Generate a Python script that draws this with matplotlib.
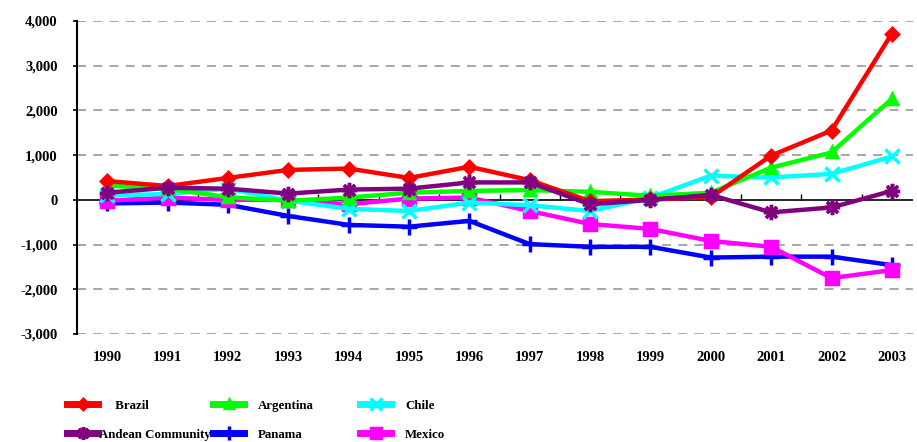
import numpy as np
import matplotlib
matplotlib.use("Agg")
from matplotlib import pyplot as plt
from matplotlib.ticker import FuncFormatter

years = list(range(1990, 2004))

brazil = [420, 310, 490, 670, 700, 490, 740, 440, -30, 10, 60, 990, 1550, 3720]
argentina = [320, 250, 60, -20, 50, 160, 200, 220, 180, 90, 160, 720, 1060, 2260]
chile = [100, 130, 250, -20, -200, -250, -60, -120, -250, 50, 540, 500, 580, 970]
andean = [160, 270, 250, 140, 230, 250, 390, 390, -100, 0, 110, -280, -170, 200]
panama = [-80, -60, -110, -360, -560, -600, -470, -990, -1050, -1050, -1290, -1270, -1270, -1460]
mexico = [-20, 50, 0, 0, -100, 30, 50, -250, -540, -650, -920, -1050, -1750, -1570]

y_ticks = [-3000, -2000, -1000, 0, 1000, 2000, 3000, 4000]

plt.rcParams['font.family'] = ['Liberation Serif', 'DejaVu Serif']
plt.rcParams['font.weight'] = 'bold'

fig = plt.figure(figsize=(9.17, 4.42), dpi=100)
ax = fig.add_axes([77 / 917, 1 - 334 / 442, (913 - 77) / 917, (334 - 21) / 442])

series = [
    ("Brazil", brazil, "#ff0000", "D", 6),
    ("Andean Community", andean, "#800080", (8, 2, 0), 11),
    ("Argentina", argentina, "#00ff00", "^", 7),
    ("Panama", panama, "#0000ff", "+", 12),
    ("Chile", chile, "#00ffff", "x", 10),
    ("Mexico", mexico, "#ff00ff", "s", 8),
]

# draw back to front like the original
draw_order = ["Panama", "Mexico", "Chile", "Argentina", "Brazil", "Andean Community"]
handles = {}
for name, vals, color, marker, ms in series:
    z = 3 + draw_order.index(name)
    line, = ax.plot(years, vals, color=color, linewidth=3.2, marker=marker,
                    markersize=ms, markeredgewidth=2.5, markeredgecolor=color,
                    markerfacecolor=color, zorder=z, label=name)
    handles[name] = line

ax.set_xlim(1989.5, 2003.35)
ax.set_ylim(-3000, 4000)
ax.set_yticks(y_ticks)
ax.yaxis.set_major_formatter(FuncFormatter(lambda v, p: f"{int(v):,}"))

for t in y_ticks:
    if t != 0:
        ax.axhline(t, color="#a0a0a0", linewidth=1.3, dashes=(5, 4), zorder=1)
ax.axhline(0, color="black", linewidth=1.2, zorder=2)

for s in ["top", "right", "bottom"]:
    ax.spines[s].set_visible(False)
ax.spines["left"].set_linewidth(1.5)

ax.set_xticks(years)
ax.tick_params(axis="x", length=0, pad=12, labelsize=10.5)
ax.tick_params(axis="y", length=3, width=1.2, pad=11, labelsize=10.5)
for lab in ax.get_xticklabels() + ax.get_yticklabels():
    lab.set_fontweight("bold")

# small tick marks on the zero line between years
zero_axis = ax.secondary_xaxis(3000 / 7000)
zero_axis.spines["bottom"].set_visible(False)
zero_axis.set_xticks([y + 0.5 for y in years[:-1]])
zero_axis.tick_params(direction="in", length=4, width=1, labelbottom=False)

# legend laid out as three columns at fixed positions
columns = [
    (["Brazil", "Andean Community"], ["     Brazil", "Andean Community"], 57),
    (["Argentina", "Panama"], ["Argentina", "Panama"], 203),
    (["Chile", "Mexico"], ["Chile", "Mexico"], 350),
]
for names, labels, x0 in columns:
    pad = 0.1 if names[0] == "Brazil" else 1.1
    leg = fig.legend([handles[n] for n in names], labels, loc="lower left",
                     bbox_to_anchor=(x0 / 917, -0.02), frameon=False,
                     prop={"family": "Liberation Serif", "weight": "bold", "size": 9.3},
                     handlelength=2.35, handletextpad=pad, labelspacing=1.3,
                     borderpad=0.3, markerscale=0.85)
    for ln in leg.get_lines():
        ln.set_linewidth(5)

fig.savefig("out.png", dpi=100)
